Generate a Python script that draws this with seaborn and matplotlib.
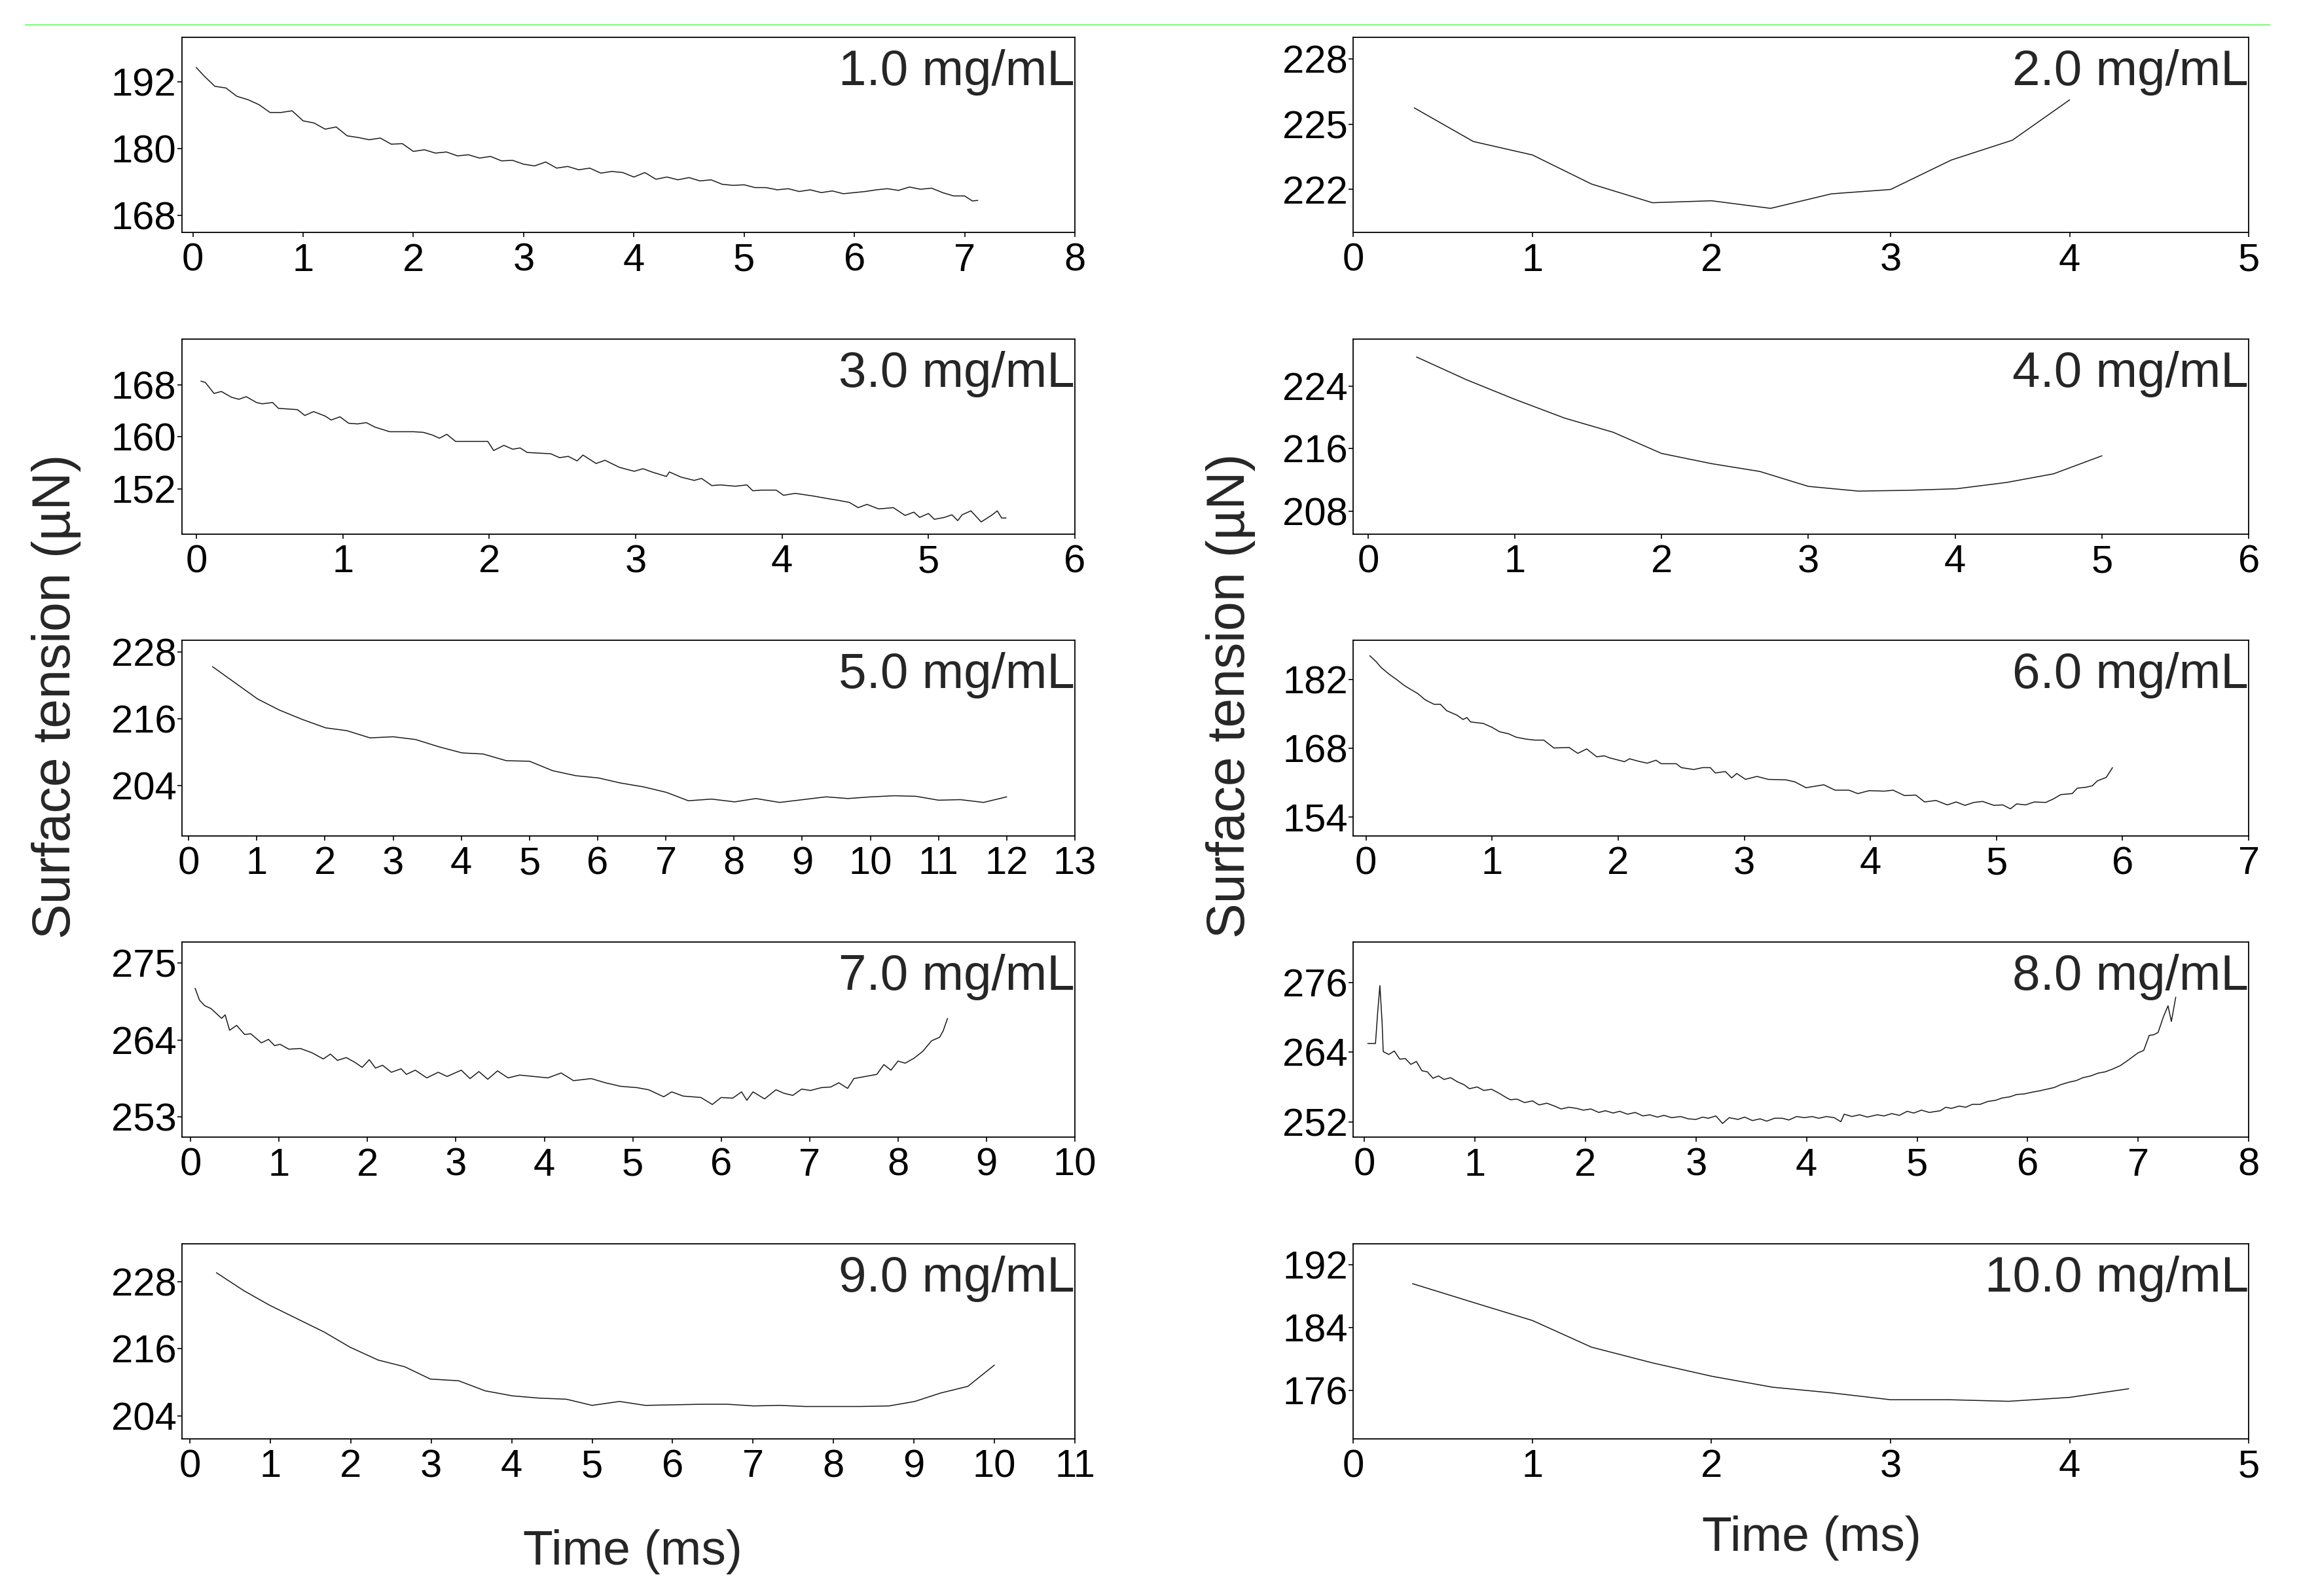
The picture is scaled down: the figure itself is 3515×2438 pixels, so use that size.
import matplotlib
matplotlib.use("Agg")
import matplotlib.pyplot as plt
from matplotlib.lines import Line2D
import seaborn as sns

# ---- data (time in ms, surface tension in uN) ----
t_1mg = [0.03, 0.1, 0.2, 0.3, 0.4, 0.5, 0.6, 0.7, 0.8, 0.9, 1.0, 1.1, 1.2, 1.3, 1.4, 1.5, 1.6, 1.7,
         1.8, 1.9, 2.0, 2.1, 2.2, 2.3, 2.4, 2.5, 2.6, 2.7, 2.8, 2.9, 3.0, 3.1, 3.2, 3.3, 3.4, 3.5,
         3.6, 3.7, 3.8, 3.9, 4.0, 4.1, 4.2, 4.3, 4.4, 4.5, 4.6, 4.7, 4.8, 4.9, 5.0, 5.1, 5.2, 5.3,
         5.4, 5.5, 5.6, 5.7, 5.8, 5.9, 6.0, 6.1, 6.2, 6.3, 6.4, 6.5, 6.6, 6.7, 6.8, 6.9, 7.0, 7.07, 7.12]
st_1mg = [194.6, 193.1, 191.2, 190.9, 189.4, 188.8, 187.9, 186.5, 186.5, 186.8, 185.0, 184.6, 183.5,
          183.9, 182.3, 182.0, 181.6, 181.9, 180.8, 180.9, 179.5, 179.8, 179.2, 179.4, 178.7, 178.9,
          178.3, 178.6, 177.8, 177.9, 177.2, 176.9, 177.6, 176.5, 176.8, 176.2, 176.5, 175.6, 175.9,
          175.7, 174.9, 175.7, 174.5, 174.9, 174.4, 174.8, 174.2, 174.4, 173.6, 173.4, 173.5, 173.0,
          173.0, 172.6, 172.8, 172.3, 172.6, 172.1, 172.4, 171.9, 172.1, 172.3, 172.6, 172.8, 172.5,
          173.1, 172.7, 172.9, 172.1, 171.5, 171.5, 170.6, 170.7]

t_2mg = [0.34, 0.67, 1.0, 1.33, 1.67, 2.0, 2.33, 2.67, 3.0, 3.34, 3.68, 4.0]
st_2mg = [225.75, 224.2, 223.58, 222.24, 221.38, 221.47, 221.12, 221.79, 221.99, 223.35, 224.26, 226.12]

t_3mg = [0.03, 0.06, 0.12, 0.17, 0.24, 0.29, 0.34, 0.41, 0.45, 0.52, 0.56, 0.69, 0.74, 0.80, 0.88,
         0.92, 0.98, 1.04, 1.10, 1.16, 1.22, 1.32, 1.48, 1.55, 1.61, 1.66, 1.71, 1.77, 1.83, 1.99,
         2.03, 2.10, 2.16, 2.21, 2.26, 2.42, 2.48, 2.54, 2.60, 2.64, 2.73, 2.79, 2.89, 2.99, 3.05,
         3.11, 3.21, 3.23, 3.31, 3.40, 3.45, 3.52, 3.58, 3.68, 3.76, 3.80, 3.86, 3.96, 4.01, 4.09,
         4.21, 4.31, 4.39, 4.46, 4.52, 4.58, 4.66, 4.76, 4.84, 4.90, 4.94, 5.00, 5.04, 5.11, 5.16,
         5.20, 5.23, 5.29, 5.36, 5.43, 5.47, 5.50, 5.53]
st_3mg = [168.6, 168.4, 166.7, 167.0, 166.1, 165.8, 166.2, 165.3, 165.1, 165.3, 164.4, 164.2, 163.3,
          163.9, 163.2, 162.6, 163.1, 162.1, 162.0, 162.2, 161.5, 160.8, 160.8, 160.7, 160.3, 159.8,
          160.4, 159.3, 159.3, 159.3, 157.9, 158.7, 158.1, 158.3, 157.6, 157.4, 156.8, 157.0, 156.3,
          157.2, 155.9, 156.4, 155.3, 154.7, 155.1, 154.6, 153.9, 154.6, 153.8, 153.3, 153.6, 152.5,
          152.6, 152.4, 152.6, 151.7, 151.8, 151.8, 151.0, 151.3, 150.9, 150.5, 150.2, 149.9, 149.1,
          149.6, 148.9, 149.1, 147.9, 148.4, 147.6, 148.2, 147.3, 147.6, 148.0, 147.1, 148.0, 148.6,
          146.9, 147.9, 148.6, 147.5, 147.5]

t_4mg = [0.33, 0.67, 1.0, 1.34, 1.67, 2.0, 2.34, 2.67, 3.0, 3.34, 3.68, 4.01, 4.35, 4.67, 5.0]
st_4mg = [227.7, 224.8, 222.3, 219.9, 218.1, 215.4, 214.1, 213.1, 211.2, 210.6, 210.7, 210.9,
          211.7, 212.8, 215.1]

t_5mg = [0.35, 0.68, 1.01, 1.33, 1.67, 2.01, 2.32, 2.66, 3.0, 3.33, 3.67, 4.01, 4.32, 4.66, 5.0,
         5.34, 5.68, 6.01, 6.33, 6.67, 7.01, 7.33, 7.67, 8.01, 8.32, 8.67, 9.01, 9.35, 9.67, 10.01,
         10.35, 10.67, 11.0, 11.32, 11.66, 12.0]
st_5mg = [225.4, 222.5, 219.6, 217.6, 215.9, 214.4, 213.9, 212.6, 212.8, 212.3, 211.0, 209.9,
          209.7, 208.5, 208.4, 206.7, 205.8, 205.4, 204.5, 203.8, 202.8, 201.3, 201.6, 201.1,
          201.7, 201.0, 201.5, 202.0, 201.7, 202.0, 202.2, 202.1, 201.4, 201.5, 201.0, 202.0]

t_6mg = [0.03, 0.08, 0.12, 0.18, 0.24, 0.30, 0.35, 0.41, 0.47, 0.54, 0.59, 0.64, 0.72, 0.77, 0.80,
         0.83, 0.93, 1.0, 1.06, 1.13, 1.19, 1.27, 1.34, 1.41, 1.49, 1.61, 1.68, 1.75, 1.83, 1.89,
         1.93, 2.05, 2.09, 2.16, 2.23, 2.30, 2.34, 2.46, 2.50, 2.60, 2.67, 2.73, 2.77, 2.85, 2.90,
         2.94, 3.01, 3.10, 3.19, 3.33, 3.40, 3.49, 3.63, 3.72, 3.83, 3.90, 3.99, 4.11, 4.18, 4.27,
         4.36, 4.43, 4.52, 4.61, 4.68, 4.75, 4.82, 4.89, 4.98, 5.05, 5.11, 5.16, 5.23, 5.30, 5.39,
         5.45, 5.51, 5.60, 5.64, 5.71, 5.76, 5.80, 5.87, 5.92]
st_6mg = [186.8, 185.6, 184.4, 183.1, 182.0, 180.8, 180.0, 179.1, 177.8, 176.9, 176.9, 175.6, 174.7,
          173.8, 174.2, 173.3, 173.0, 172.2, 171.3, 170.9, 170.2, 169.8, 169.6, 169.6, 168.0, 168.1,
          166.9, 167.8, 166.2, 166.4, 166.0, 165.2, 165.8, 165.3, 164.9, 165.5, 164.8, 164.8, 164.0,
          163.6, 164.0, 164.0, 162.9, 163.2, 161.9, 162.8, 161.6, 162.2, 161.6, 161.5, 161.1, 159.9,
          160.5, 159.4, 159.4, 158.7, 159.3, 159.2, 159.4, 158.3, 158.4, 157.0, 157.3, 156.4, 157.0,
          156.3, 156.9, 157.1, 156.3, 156.4, 155.6, 156.6, 156.4, 157.0, 156.9, 157.6, 158.5, 158.7,
          159.8, 160.0, 160.3, 161.3, 162.0, 164.0]

t_7mg = [0.05, 0.10, 0.16, 0.23, 0.29, 0.35, 0.39, 0.44, 0.52, 0.61, 0.68, 0.80, 0.88, 0.95, 1.01,
         1.11, 1.24, 1.37, 1.50, 1.58, 1.66, 1.76, 1.86, 1.94, 2.02, 2.09, 2.17, 2.27, 2.38, 2.44,
         2.54, 2.67, 2.80, 2.90, 3.06, 3.16, 3.26, 3.36, 3.47, 3.59, 3.72, 3.88, 4.04, 4.19, 4.33,
         4.53, 4.69, 4.86, 5.05, 5.18, 5.35, 5.44, 5.57, 5.77, 5.90, 6.00, 6.13, 6.23, 6.29, 6.36,
         6.49, 6.62, 6.71, 6.81, 6.91, 7.01, 7.13, 7.24, 7.33, 7.43, 7.50, 7.63, 7.76, 7.84, 7.92,
         8.00, 8.08, 8.18, 8.28, 8.38, 8.47, 8.51, 8.56]
st_7mg = [271.4, 269.7, 268.9, 268.5, 267.8, 267.1, 267.6, 265.4, 266.1, 264.8, 264.9, 263.6, 264.1,
          263.2, 263.4, 262.7, 262.8, 262.2, 261.3, 262.0, 261.1, 261.5, 260.8, 260.1, 261.2, 260.0,
          260.4, 259.4, 259.9, 259.1, 259.7, 258.6, 259.4, 258.8, 259.7, 258.5, 259.5, 258.4, 259.6,
          258.6, 259.0, 258.8, 258.6, 259.3, 258.2, 258.5, 257.9, 257.4, 257.2, 256.9, 255.9, 256.6,
          256.0, 255.8, 254.8, 255.8, 255.7, 256.6, 255.4, 256.6, 255.6, 256.9, 256.4, 256.1, 257.0,
          256.8, 257.2, 257.3, 257.9, 257.1, 258.5, 258.8, 259.1, 260.5, 259.7, 261.0, 260.7, 261.4,
          262.4, 263.9, 264.4, 265.3, 267.1]

t_8mg = [0.03, 0.10, 0.12, 0.14, 0.16, 0.17, 0.22, 0.27, 0.32, 0.37, 0.42, 0.47, 0.52, 0.57, 0.62,
         0.67, 0.72, 0.78, 0.84, 0.90, 0.95, 1.02, 1.08, 1.15, 1.22, 1.28, 1.32, 1.38, 1.45, 1.52,
         1.58, 1.65, 1.72, 1.78, 1.85, 1.92, 1.98, 2.05, 2.12, 2.18, 2.25, 2.31, 2.38, 2.45, 2.52,
         2.58, 2.65, 2.71, 2.78, 2.86, 2.93, 3.0, 3.06, 3.11, 3.18, 3.24, 3.30, 3.38, 3.44, 3.51,
         3.58, 3.64, 3.71, 3.78, 3.84, 3.91, 3.98, 4.05, 4.11, 4.18, 4.25, 4.31, 4.34, 4.41, 4.48,
         4.55, 4.64, 4.70, 4.77, 4.84, 4.91, 4.97, 5.04, 5.11, 5.21, 5.26, 5.31, 5.38, 5.44, 5.50,
         5.57, 5.64, 5.71, 5.77, 5.84, 5.90, 5.97, 6.04, 6.10, 6.17, 6.24, 6.30, 6.37, 6.44, 6.50,
         6.57, 6.64, 6.70, 6.77, 6.84, 6.90, 6.95, 7.00, 7.05, 7.10, 7.14, 7.18, 7.23, 7.27, 7.30, 7.34]
st_8mg = [265.5, 265.5, 270.9, 275.5, 269.1, 264.1, 263.6, 264.2, 262.8, 262.9, 261.9, 262.4, 260.8,
          260.6, 259.5, 259.9, 259.3, 259.6, 258.9, 258.4, 257.7, 258.0, 257.4, 257.6, 256.9, 256.2,
          255.8, 255.9, 255.3, 255.6, 254.9, 255.2, 254.7, 254.2, 254.5, 254.3, 254.0, 254.2, 253.6,
          253.9, 253.5, 253.8, 253.3, 253.6, 253.0, 253.2, 252.8, 253.1, 252.7, 252.9, 252.5, 252.4,
          252.8, 252.6, 253.0, 251.7, 252.7, 252.4, 252.8, 252.2, 252.5, 252.1, 252.6, 252.6, 252.3,
          252.9, 252.7, 252.9, 252.6, 252.9, 252.7, 252.0, 253.3, 252.9, 253.2, 252.8, 253.2, 253.0,
          253.4, 253.1, 253.8, 253.5, 254.0, 253.6, 253.9, 254.5, 254.3, 254.7, 254.5, 255.0, 255.0,
          255.5, 255.7, 256.1, 256.3, 256.7, 256.8, 257.1, 257.3, 257.6, 257.9, 258.4, 258.8, 259.1,
          259.6, 259.9, 260.4, 260.6, 261.1, 261.7, 262.5, 263.2, 263.9, 264.3, 266.9, 267.0, 267.4,
          270.2, 272.0, 269.3, 273.5]

t_9mg = [0.33, 0.67, 0.99, 1.33, 1.67, 1.99, 2.34, 2.67, 2.99, 3.34, 3.67, 4.01, 4.34, 4.68, 5.0,
         5.34, 5.66, 6.0, 6.35, 6.68, 7.01, 7.33, 7.65, 8.01, 8.33, 8.69, 9.01, 9.33, 9.67, 10.0]
st_9mg = [229.6, 226.4, 223.8, 221.4, 219.0, 216.3, 214.0, 212.8, 210.6, 210.3, 208.5, 207.6, 207.2,
          207.0, 205.9, 206.6, 205.9, 206.0, 206.1, 206.1, 205.8, 205.9, 205.7, 205.7, 205.7, 205.8,
          206.6, 208.1, 209.3, 213.1]

t_10mg = [0.33, 0.67, 1.0, 1.33, 1.67, 2.0, 2.34, 2.66, 3.0, 3.33, 3.66, 4.0, 4.33]
st_10mg = [189.6, 187.2, 184.9, 181.5, 179.5, 177.8, 176.4, 175.7, 174.8, 174.8, 174.6, 175.1, 176.2]

labels = ["1.0 mg/mL", "2.0 mg/mL", "3.0 mg/mL", "4.0 mg/mL", "5.0 mg/mL",
          "6.0 mg/mL", "7.0 mg/mL", "8.0 mg/mL", "9.0 mg/mL", "10.0 mg/mL"]
times = [t_1mg, t_2mg, t_3mg, t_4mg, t_5mg, t_6mg, t_7mg, t_8mg, t_9mg, t_10mg]
tensions = [st_1mg, st_2mg, st_3mg, st_4mg, st_5mg, st_6mg, st_7mg, st_8mg, st_9mg, st_10mg]
x_max = [8, 5, 6, 6, 13, 7, 10, 8, 11, 5]
y_ticks = [[168, 180, 192], [222, 225, 228], [152, 160, 168], [208, 216, 224], [204, 216, 228],
           [154, 168, 182], [253, 264, 275], [252, 264, 276], [204, 216, 228], [176, 184, 192]]

# axis windows (style)
x_min = [-0.1, 0, -0.1, -0.1, -0.1, -0.1, -0.1, -0.1, -0.1, 0]
y_lims = [(164.9, 200.0), (220.0, 229.0), (145.0, 175.1), (205.1, 230.0), (195.0, 230.1),
          (150.1, 189.9), (250.1, 278.0), (249.3, 283.0), (199.9, 234.8), (169.8, 194.7)]

sns.set_style("white")
plt.rcParams["font.family"] = ["Liberation Sans", "DejaVu Sans"]

fig = plt.figure(figsize=(35.16, 24.38), dpi=100)
gs_l = fig.add_gridspec(5, 1, left=0.079, right=0.467, top=0.9766, bottom=0.0984, hspace=0.544)
gs_r = fig.add_gridspec(5, 1, left=0.588, right=0.977, top=0.9766, bottom=0.0984, hspace=0.544)

for i in range(10):
    col, row = i % 2, i // 2
    ax = fig.add_subplot((gs_l if col == 0 else gs_r)[row, 0])
    sns.lineplot(x=times[i], y=tensions[i], ax=ax, color="#1a1a1a", linewidth=1.1,
                 sort=False, estimator=None)
    ax.set_xlim(x_min[i], x_max[i])
    ax.set_ylim(*y_lims[i])
    ax.set_xticks(range(0, x_max[i] + 1))
    ax.set_yticks(y_ticks[i])
    ax.set_xlabel("")
    ax.set_ylabel("")
    ax.tick_params(axis="both", direction="out", bottom=True, left=True, length=5, width=1.2,
                   labelsize=43, colors="black")
    ax.tick_params(axis="y", pad=1)
    ax.tick_params(axis="x", pad=6)
    for sp in ax.spines.values():
        sp.set_color("black")
        sp.set_linewidth(1.3)
    ax.text(1.0, 0.755, labels[i], transform=ax.transAxes, ha="right", va="baseline",
            fontsize=55)

fig.text(0.0244, 0.5636, "Surface tension (µN)", rotation=90, ha="center", va="center", fontsize=58)
fig.text(0.5347, 0.564, "Surface tension (µN)", rotation=90, ha="center", va="center", fontsize=58)
fig.text(0.275, 0.0275, "Time (ms)", ha="center", va="center", fontsize=54)
fig.text(0.787, 0.0365, "Time (ms)", ha="center", va="center", fontsize=54)

fig.add_artist(Line2D([0.011, 0.986], [0.9844, 0.9844], transform=fig.transFigure,
                      color="#7cfc7c", linewidth=1.5))

fig.savefig("out.png", dpi=100)
